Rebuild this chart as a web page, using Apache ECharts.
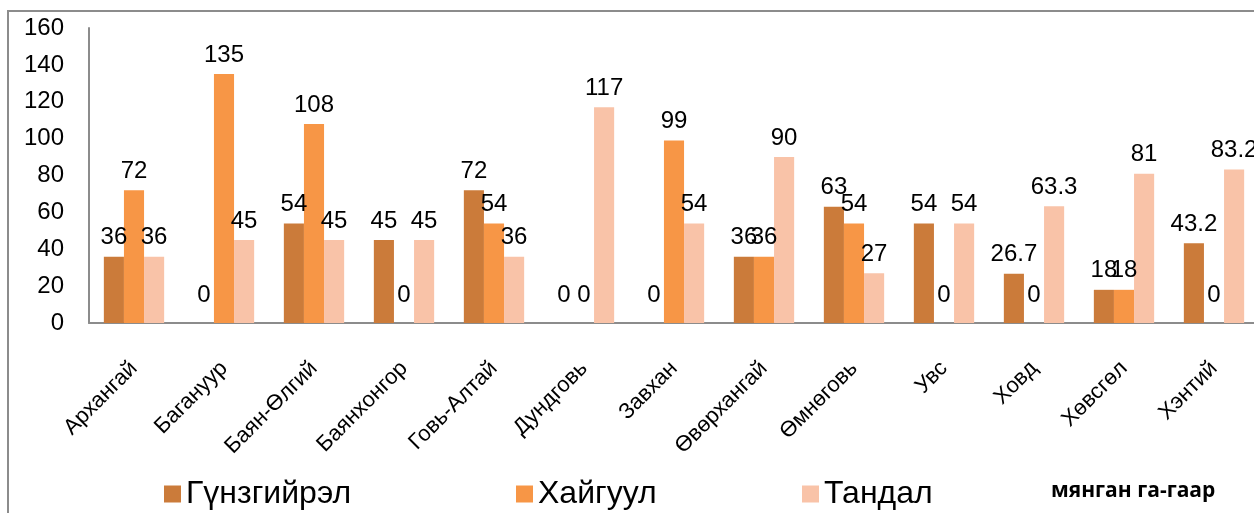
<!DOCTYPE html>
<html>
<head>
<meta charset="utf-8">
<script src="https://cdn.jsdelivr.net/npm/echarts@6/dist/echarts.min.js"></script>
<style>
  html, body { margin: 0; padding: 0; background: #fff; }
  #chart { width: 1254px; height: 513px; }
</style>
</head>
<body>
<div id="chart"></div>
<script>
const categories = [
  "Архангай", "Багануур", "Баян-Өлгий", "Баянхонгор", "Говь-Алтай", "Дундговь",
  "Завхан", "Өвөрхангай", "Өмнөговь", "Увс", "Ховд", "Хөвсгөл", "Хэнтий",
];
const gunzgiirel = [36, 0, 54, 45, 72, 0, 0, 36, 63, 54, 26.7, 18, 43.2];
const khaiguul = [72, 135, 108, 0, 54, 0, 99, 36, 54, 0, 0, 18, 0];
const tandal = [36, 45, 45, 45, 36, 117, 54, 90, 27, 54, 63.3, 81, 83.2];
const yTicks = [0, 20, 40, 60, 80, 100, 120, 140, 160];
const seriesNames = ["Гүнзгийрэл", "Хайгуул", "Тандал"];
const unitLabel = "мянган га-гаар";

const COLORS = ["#CB7B3A", "#F79646", "#F9C3A8"];
const FONT = "Liberation Sans";

const chart = echarts.init(document.getElementById("chart"));

const makeSeries = (name, values, color) => ({
  name,
  type: "bar",
  data: values.map((v) => ({
    value: v,
    label: { distance: v === 0 ? 16 : 7 },
  })),
  barGap: "0%",
  barCategoryGap: "33%",
  itemStyle: { color },
  label: {
    show: true,
    position: "top",
    color: "#000",
    fontFamily: FONT,
    fontSize: 24,
  },
  emphasis: { disabled: true },
});

const legendBase = {
  bottom: 3,
  padding: 0,
  itemWidth: 17,
  itemHeight: 17,
  icon: "rect",
  textStyle: { fontFamily: FONT, fontSize: 32, color: "#000" },
  itemGap: 6,
};

chart.setOption({
  animation: false,
  grid: {
    left: 89,
    top: 28,
    right: -5,
    bottom: 190,
    outerBoundsMode: "none",
  },
  graphic: [
    {
      type: "rect",
      shape: { x: 8, y: 11, width: 1280, height: 540 },
      style: { fill: null, stroke: "#8c8c8c", lineWidth: 2 },
      silent: true,
    },
    {
      type: "text",
      left: 1051,
      top: 481,
      style: {
        text: unitLabel,
        fontFamily: "Open Sans",
        fontWeight: "bold",
        fontSize: 21,
        fill: "#000",
      },
    },
  ],
  legend: [
    { ...legendBase, left: 164, data: [seriesNames[0]] },
    { ...legendBase, left: 516, data: [seriesNames[1]] },
    { ...legendBase, left: 802, data: [seriesNames[2]] },
  ],
  xAxis: {
    type: "category",
    data: categories,
    axisLine: { lineStyle: { color: "#8c8c8c", width: 2 } },
    axisTick: { show: false },
    axisLabel: {
      rotate: 45,
      interval: 0,
      margin: 42,
      color: "#000",
      fontFamily: FONT,
      fontSize: 22,
    },
  },
  yAxis: {
    type: "value",
    min: yTicks[0],
    max: yTicks[yTicks.length - 1],
    interval: yTicks[1] - yTicks[0],
    axisLine: { show: true, lineStyle: { color: "#8c8c8c", width: 2 } },
    axisTick: { show: false },
    splitLine: { show: false },
    axisLabel: {
      margin: 25,
      color: "#000",
      fontFamily: FONT,
      fontSize: 24,
    },
  },
  series: [
    makeSeries(seriesNames[0], gunzgiirel, COLORS[0]),
    makeSeries(seriesNames[1], khaiguul, COLORS[1]),
    makeSeries(seriesNames[2], tandal, COLORS[2]),
  ],
});
</script>
</body>
</html>
